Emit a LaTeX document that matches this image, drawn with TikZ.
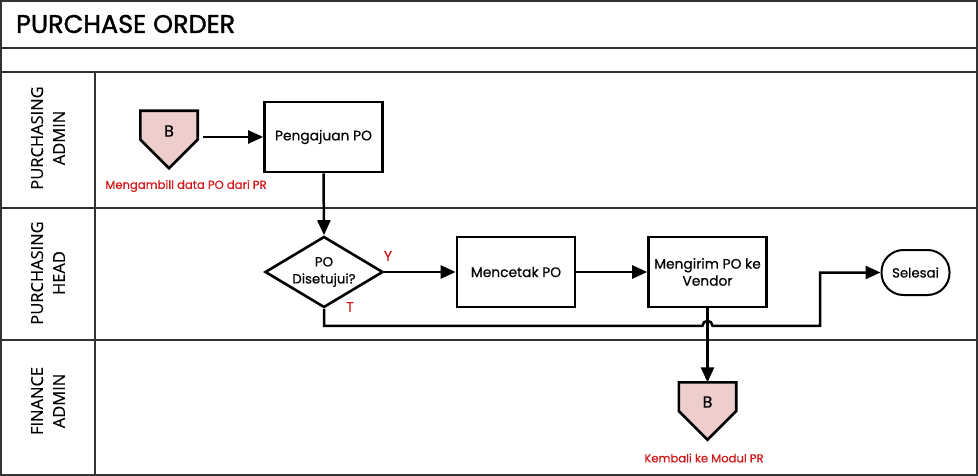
\documentclass[tikz,border=0pt]{standalone}
\usepackage{fontspec}
\setmainfont{Poppins}[FakeBold=0.4]
\newfontfamily\titlefont{Poppins}[FakeBold=1.5]
\newfontfamily\lanefont{Open Sans}[FakeBold=0.3]
\usetikzlibrary{arrows.meta,shapes.geometric,calc}
\definecolor{pinkfill}{HTML}{EECDCD}
\definecolor{redtxt}{HTML}{D01818}
\definecolor{framecol}{HTML}{333333}
\newcommand{\offpagedraw}[1]{\draw[offp] (#1.north west) -- (#1.north east) -- (#1.east) -- (#1.south) -- (#1.west) -- cycle;}
\begin{document}
\begin{tikzpicture}[x=1pt,y=-1pt,
  frameline/.style={draw=framecol,line width=1.3pt},
  procbox/.style={draw=black,line width=2.6pt,minimum width=118pt,minimum height=70pt,align=center,font=\fontsize{13.8}{17}\selectfont,inner sep=2pt},
  decbox/.style={draw=black,shape=diamond,line width=2.6pt,minimum width=118pt,minimum height=71pt,aspect=1.66,align=center,font=\fontsize{13.3}{17}\selectfont,inner sep=0pt},
  termbox/.style={draw=black,line width=2pt,rounded corners=22pt,minimum width=68pt,minimum height=45pt,font=\fontsize{13.3}{16}\selectfont},
  offpbox/.style={minimum width=57pt,minimum height=57pt,inner sep=0pt},
  offp/.style={draw=black,line width=2.6pt,fill=pinkfill,line join=miter},
  offlbl/.style={font=\fontsize{16}{18}\selectfont,inner sep=0pt},
  arr/.style={line width=2.5pt,-{Triangle[length=15pt,width=13pt]}},
  redlbl/.style={text=redtxt,font=\fontsize{11.6}{13}\selectfont,inner sep=0pt},
  yt/.style={text=redtxt,font=\fontsize{14}{15}\selectfont,inner sep=0pt},
  lanelbl/.style={rotate=90,align=center,font=\lanefont\fontsize{16.5}{22}\selectfont,inner sep=0pt},
  titlelbl/.style={anchor=west,font=\titlefont\fontsize{25.5}{30}\selectfont,inner sep=0pt}
]
\useasboundingbox (0,0) rectangle (978,476);
% frame
\draw[frameline] (1,1) rectangle (977,475);
\draw[frameline] (1,48) -- (977,48);
\draw[frameline] (1,72) -- (977,72);
\draw[frameline] (1,208) -- (977,208);
\draw[frameline] (1,340) -- (977,340);
\draw[frameline] (95,72) -- (95,475);
% title and lanes
\node[titlelbl] (title) at (16,24) {PURCHASE ORDER};
\node[lanelbl] (lane1) at (48,138) {PURCHASING\\ADMIN};
\node[lanelbl] (lane2) at (48,273) {PURCHASING\\HEAD};
\node[lanelbl] (lane3) at (48,401) {FINANCE\\ADMIN};
% off-page connector top
\node[offpbox] (b1) at (169,139.5) {};
\offpagedraw{b1}
\node[offlbl] (b1t) at (169,131) {B};
\node[redlbl] (lb1) at (186,186) {Mengambill data PO dari PR};
% process
\node[procbox] (pa) at (323.5,137) {Pengajuan PO};
\node[decbox] (d) at (324,272) {PO\\Disetujui?};
\node[procbox] (mc) at (516,272) {Mencetak PO};
\node[procbox] (mv) at (707.5,272) {Mengirim PO ke\\Vendor};
\node[termbox] (sel) at (915.5,272.5) {Selesai};
% off-page connector bottom
\node[offpbox] (b2) at (707.5,411) {};
\offpagedraw{b2}
\node[offlbl] (b2t) at (707.5,402) {B};
\node[redlbl] (lb2) at (704,458) {Kembali ke Modul PR};
% Y / T labels
\node[yt] (ly) at (388,256) {Y};
\node[yt] (lt) at (350,307) {T};
% connectors
\draw[arr] ([xshift=5pt]b1.east |- pa.west) -- (pa.west);
\draw[arr] (pa.south) -- (d.north);
\draw[arr] (d.east) -- (mc.west);
\draw[arr] (mc.east) -- (mv.west);
\draw[arr] (mv.south) -- (b2.north);
\coordinate (c1) at ($(d.south)+(0,17)$);
\coordinate (c2) at (820,0);
\draw[arr] (d.south) -- (c1) -- ($(mv.south |- c1)+(-5,0)$) arc[start angle=180,end angle=0,radius=5pt] -- (c2 |- c1) -- (c2 |- sel.west) -- (sel.west);
\end{tikzpicture}
\end{document}
